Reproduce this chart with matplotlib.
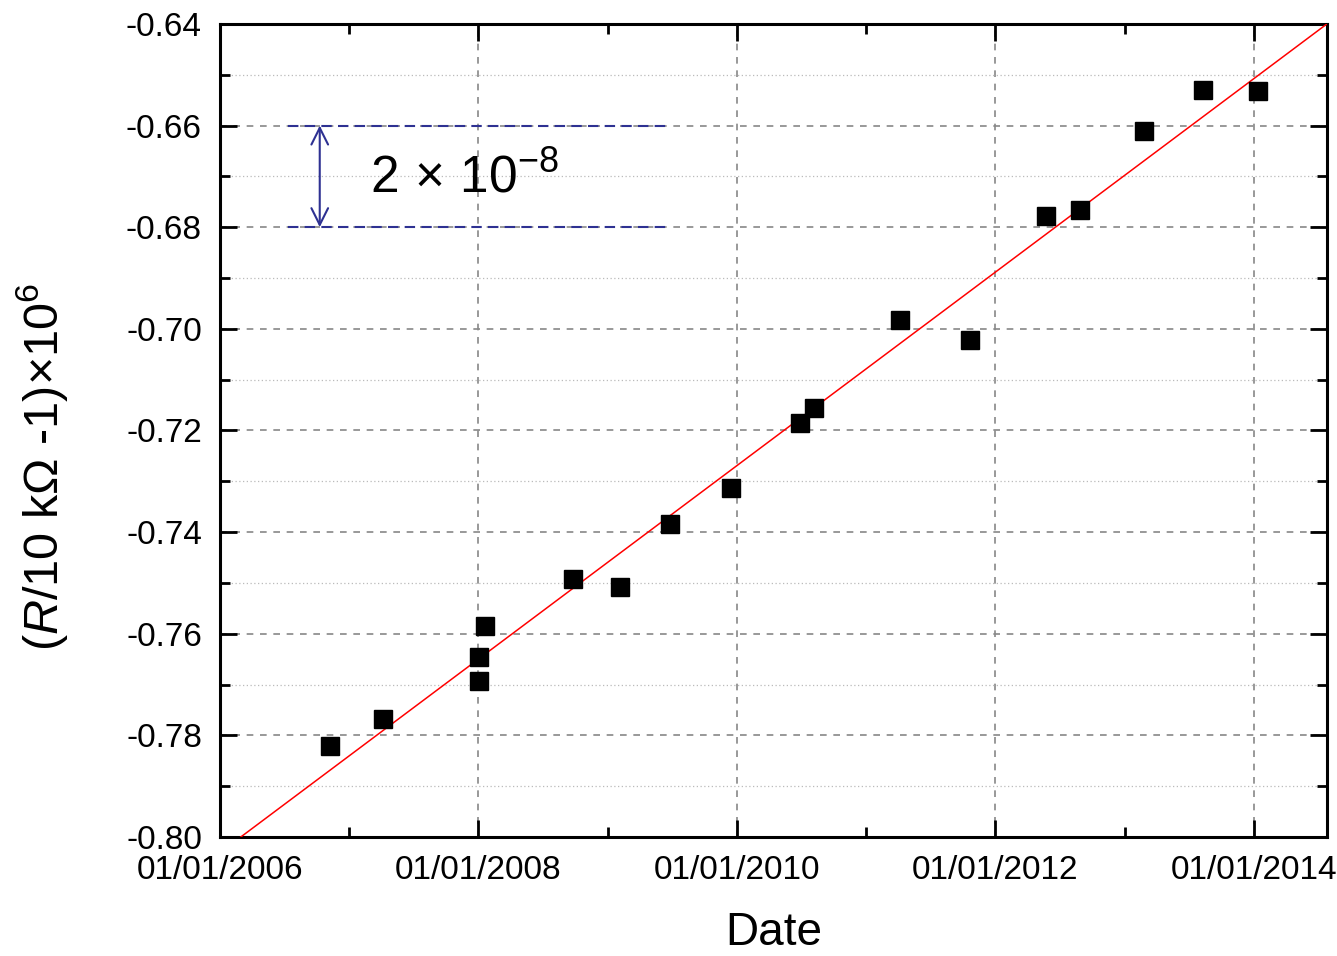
import matplotlib
matplotlib.use("Agg")
import matplotlib.pyplot as plt
import matplotlib.dates as mdates
from matplotlib.ticker import MultipleLocator, FormatStrFormatter
import numpy as np

plt.rcParams['font.family'] = ['Liberation Sans', 'DejaVu Sans']
plt.rcParams['mathtext.fontset'] = 'custom'
plt.rcParams['mathtext.rm'] = 'Liberation Sans'
plt.rcParams['mathtext.it'] = 'Liberation Sans:italic'

# measurement dates and relative deviation (x 1e6)
dates = ['2006-11-08', '2007-04-07', '2008-01-04', '2008-01-04', '2008-01-20',
         '2008-09-26', '2009-02-04', '2009-06-27', '2009-12-14', '2010-06-28',
         '2010-08-07', '2011-04-06', '2011-10-22', '2012-05-22', '2012-08-26',
         '2013-02-23', '2013-08-09', '2014-01-12']
values = [-0.7821, -0.7768, -0.7693, -0.7646, -0.7585,
          -0.7492, -0.7508, -0.7384, -0.7313, -0.7185,
          -0.7156, -0.6982, -0.7022, -0.6778, -0.6766,
          -0.6611, -0.6530, -0.6532]

# linear drift fit (end points)
fit_dates = ['2006-03-01', '2014-07-26']
fit_values = [-0.80, -0.64]

# 2e-8 scale marker
scale_levels = [-0.66, -0.68]
scale_span = ['2006-07-12', '2009-06-22']
arrow_date = '2006-10-10'

xlim = ['2006-01-01', '2014-07-26']
ylim = [-0.80, -0.64]

x = mdates.datestr2num(dates)
fx = mdates.datestr2num(fit_dates)

fig = plt.figure(figsize=(13.37, 9.56), dpi=100)
ax = fig.add_axes([0.1645, 0.1245, 0.828, 0.8505])

ax.grid(which='major', color='#888888', linestyle=(0, (4, 4)), linewidth=1.2)
ax.yaxis.grid(which='minor', color='#bbbbbb', linestyle=(0, (1, 2)), linewidth=0.9)
ax.set_axisbelow(True)

ax.plot(fx, fit_values, color='red', linewidth=1.1, zorder=3)
ax.plot(x, values, 's', color='black', markersize=13, zorder=4)

sx = mdates.datestr2num(scale_span)
for lv in scale_levels:
    ax.plot(sx, [lv, lv], color='#2e3192', linestyle=(0, (5, 3)), linewidth=1.5, zorder=3)
ax_x = mdates.datestr2num(arrow_date)
ax.annotate('', xy=(ax_x, scale_levels[1]), xytext=(ax_x, scale_levels[0]),
            arrowprops=dict(arrowstyle='<->', color='#2e3192', lw=1.5,
                            mutation_scale=30, shrinkA=0, shrinkB=0), zorder=4)
ax.text(mdates.datestr2num('2007-03-01'), -0.6705,
        r'$\mathregular{2\,\times\,10^{-8}}$',
        fontsize=37, va='center', ha='left')

ax.set_xlim(mdates.datestr2num(xlim))
ax.set_ylim(ylim)

ax.xaxis.set_major_locator(mdates.YearLocator(2))
ax.xaxis.set_minor_locator(mdates.YearLocator(1))
ax.xaxis.set_major_formatter(mdates.DateFormatter('%m/%d/%Y'))
ax.yaxis.set_major_locator(MultipleLocator(0.02))
ax.yaxis.set_minor_locator(MultipleLocator(0.01))
ax.yaxis.set_major_formatter(FormatStrFormatter('%.2f'))

ax.tick_params(which='both', direction='in', top=True, right=True, width=2)
ax.tick_params(which='major', length=12, labelsize=24, pad=13)
ax.tick_params(which='minor', length=7)
for s in ax.spines.values():
    s.set_linewidth(2.2)

ax.set_xlabel('Date', fontsize=33, labelpad=18)
ax.set_ylabel(r'($\mathit{R}$/10 kΩ -1)×10$^{6}$', fontsize=35)
ax.yaxis.set_label_coords(-0.135, 0.455)

fig.savefig('out.png', dpi=100)
